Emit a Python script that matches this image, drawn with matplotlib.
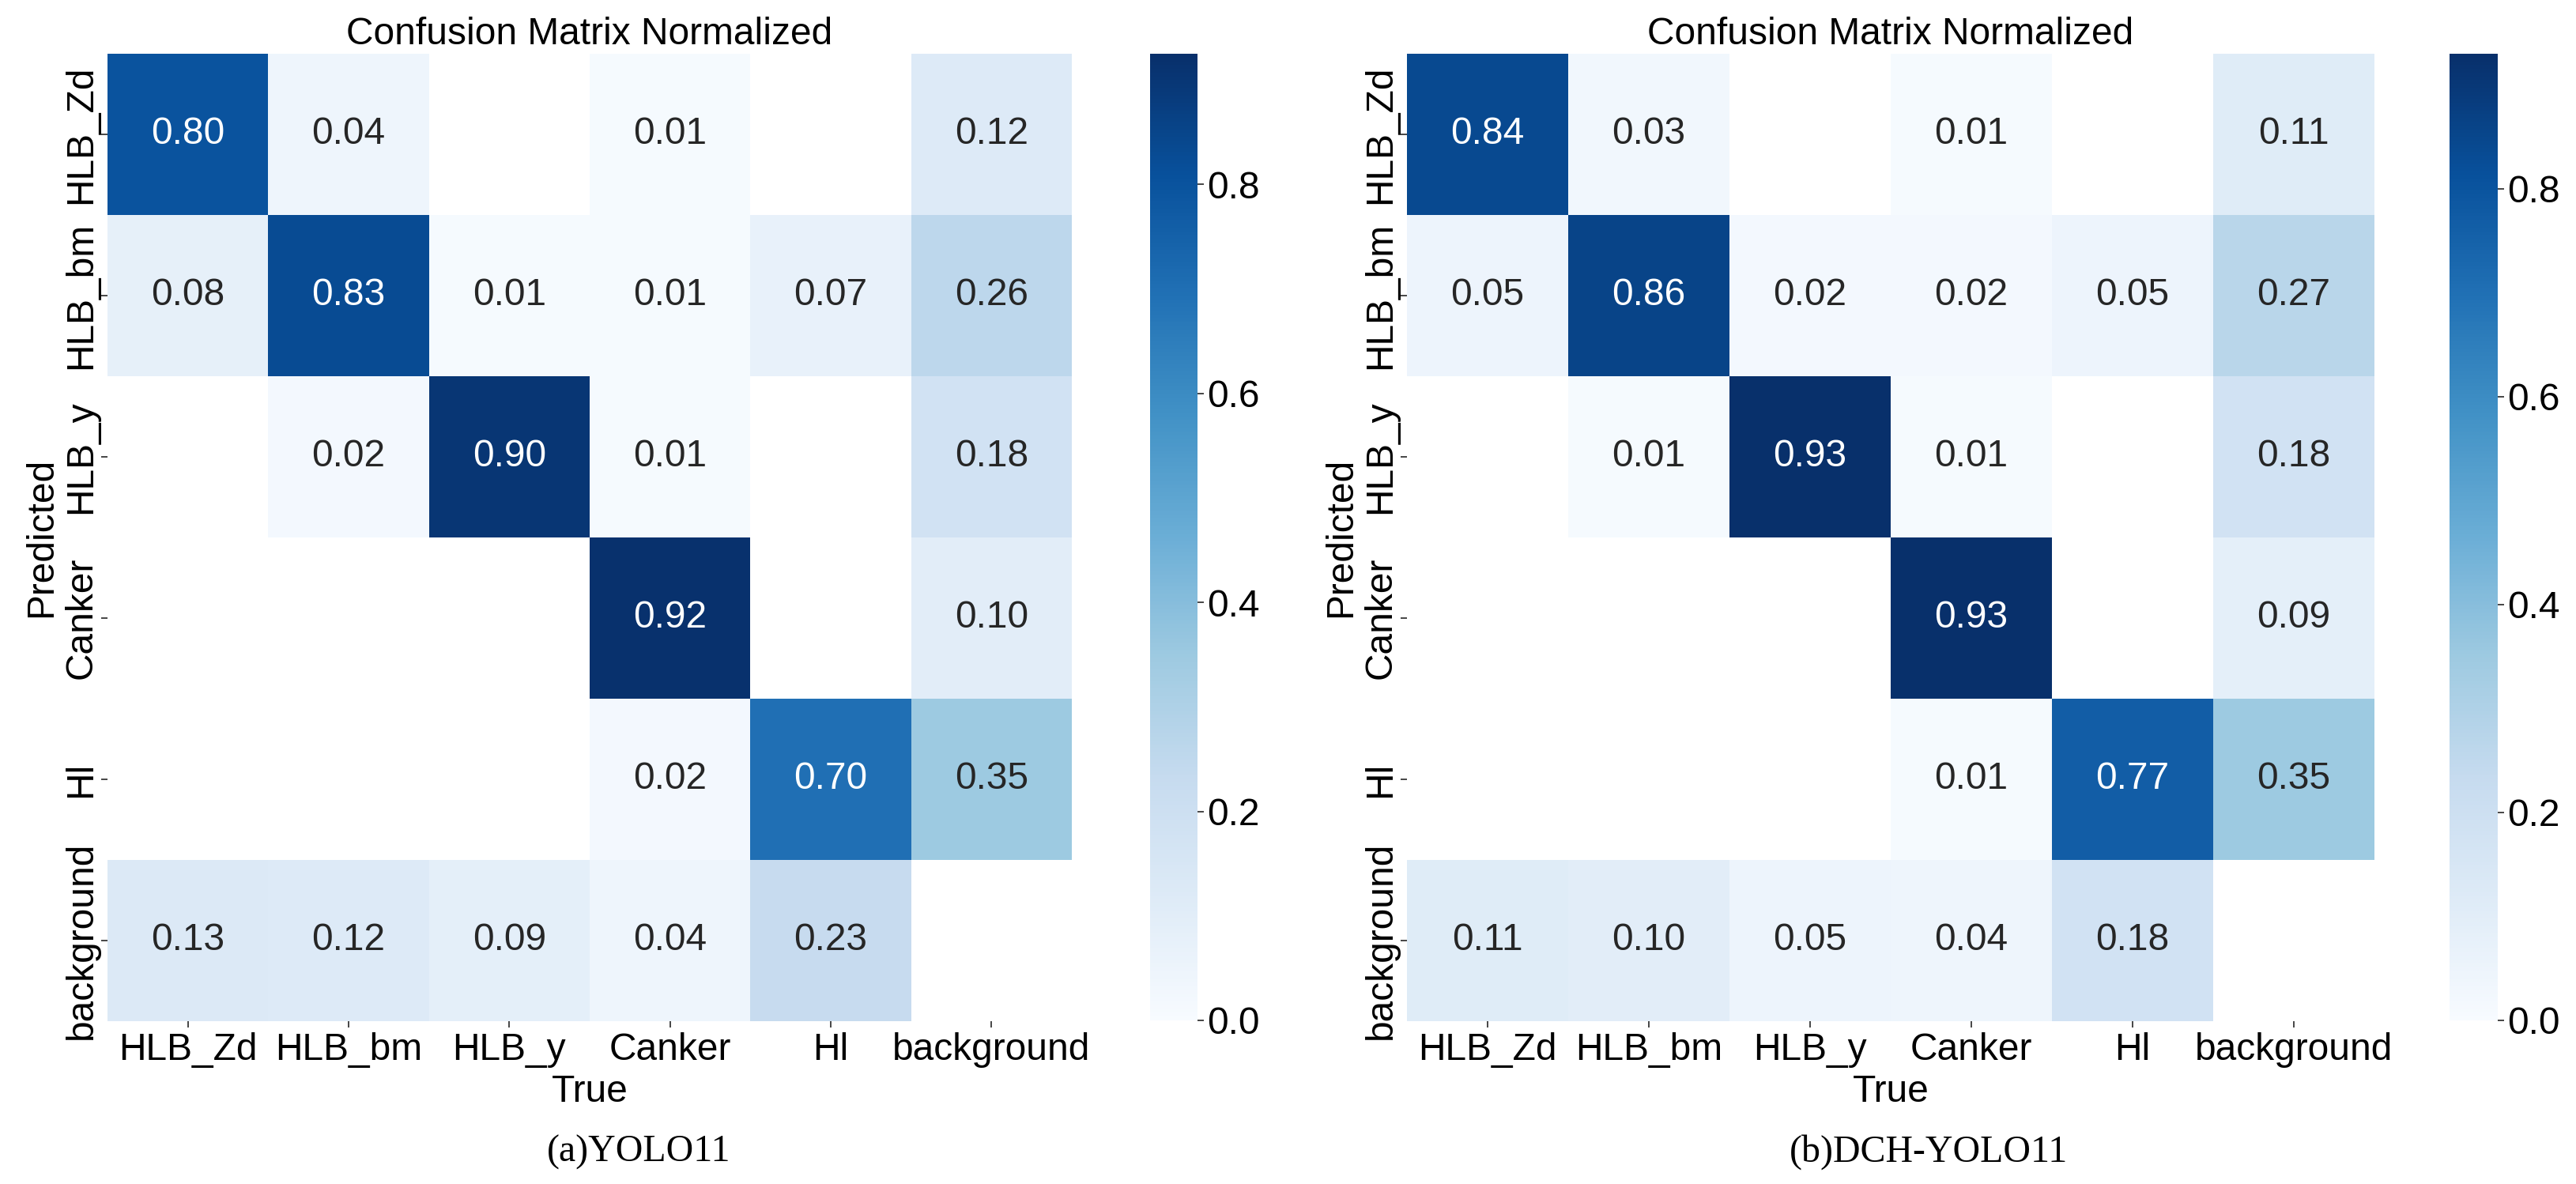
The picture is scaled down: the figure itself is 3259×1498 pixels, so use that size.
import numpy as np
import matplotlib
matplotlib.use("Agg")
import matplotlib.pyplot as plt
import seaborn as sns

# class names (rows = predicted, cols = true)
classes = ["HLB_Zd", "HLB_bm", "HLB_y", "Canker", "Hl", "background"]
nan = np.nan

# (a) YOLO11 normalized confusion matrix, blanks are ~0 values
yolo11 = [
    [0.80, 0.04, nan, 0.01, nan, 0.12],
    [0.08, 0.83, 0.01, 0.01, 0.07, 0.26],
    [nan, 0.02, 0.90, 0.01, nan, 0.18],
    [nan, nan, nan, 0.92, nan, 0.10],
    [nan, nan, nan, 0.02, 0.70, 0.35],
    [0.13, 0.12, 0.09, 0.04, 0.23, nan],
]

# (b) DCH-YOLO11
dch_yolo11 = [
    [0.84, 0.03, nan, 0.01, nan, 0.11],
    [0.05, 0.86, 0.02, 0.02, 0.05, 0.27],
    [nan, 0.01, 0.93, 0.01, nan, 0.18],
    [nan, nan, nan, 0.93, nan, 0.09],
    [nan, nan, nan, 0.01, 0.77, 0.35],
    [0.11, 0.10, 0.05, 0.04, 0.18, nan],
]

captions = ["(a)YOLO11", "(b)DCH-YOLO11"]
vmaxes = [0.925, 0.93]
cbar_ticks = [0.0, 0.2, 0.4, 0.6, 0.8]

W, H = 3259, 1498
fs = 34.5
plt.rcParams['font.family'] = ['Liberation Sans', 'DejaVu Sans']
plt.rcParams['font.size'] = fs

fig = plt.figure(figsize=(W / 100, H / 100), dpi=100)

def px_box(x0, x1, y0, y1):
    # pixel box (top-left origin) -> figure fraction rect
    return [x0 / W, 1 - y1 / H, (x1 - x0) / W, (y1 - y0) / H]

layout = [
    # heatmap x0, x1, cbar x0, x1, caption x
    (136, 1356, 1455, 1515, 808),
    (1780, 3004, 3099, 3160, 2440),
]

for data, cap, vmax, (hx0, hx1, cx0, cx1, capx) in zip(
        [yolo11, dch_yolo11], captions, vmaxes, layout):
    ax = fig.add_axes(px_box(hx0, hx1, 68, 1292))
    cax = fig.add_axes(px_box(cx0, cx1, 68, 1291))
    arr = np.array(data, dtype=float)
    sns.heatmap(arr, ax=ax, cbar_ax=cax, cmap="Blues", vmin=0.0, vmax=vmax,
                annot=True, fmt=".2f", annot_kws={"size": fs},
                xticklabels=classes, yticklabels=classes,
                cbar_kws={"ticks": cbar_ticks})
    ax.set_facecolor((1, 1, 1))
    ax.set_title("Confusion Matrix Normalized", fontsize=fs, pad=9)
    ax.set_xlabel("True", fontsize=fs, labelpad=6)
    ax.set_ylabel("Predicted", fontsize=fs, labelpad=4)
    ax.tick_params(axis="x", length=5.5, width=1.2, color="#262626",
                   labelsize=fs, pad=4.5)
    ax.tick_params(axis="y", length=5.5, width=1.2, color="#262626",
                   labelsize=fs, pad=2)
    plt.setp(ax.get_xticklabels(), rotation=0)
    plt.setp(ax.get_yticklabels(), rotation=90, va="center")
    cax.tick_params(length=5.5, width=1.2, color="#262626", labelsize=fs, pad=3)
    cax.set_yticklabels([f"{t:.1f}" for t in cbar_ticks])
    fig.text(capx / W, 1 - 1458 / H, cap, ha="center", va="center",
             fontsize=fs, family=["Liberation Serif", "DejaVu Serif"])

fig.savefig("out.png", dpi=100, facecolor="white")
